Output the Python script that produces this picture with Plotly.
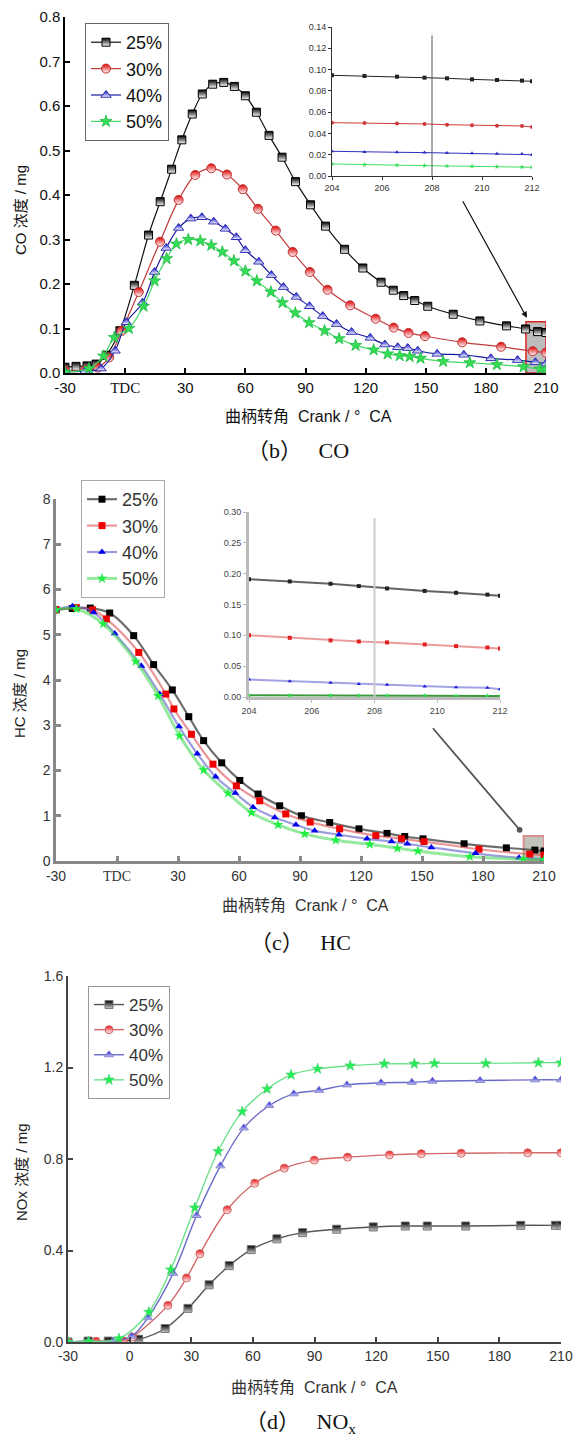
import plotly.graph_objects as go

# ---------------- DATA ----------------
labels = ["25%", "30%", "40%", "50%"]

# CO main
co_x25 = [-30, -24.5, -19, -14.5, -9.4, -2.6, 4.6, 11.7, 17.5, 23.2, 28.3, 33.5, 38.5, 43.7, 49.2, 54.5, 60, 65.5, 71.8, 78.3, 85, 92.5, 100, 109.5, 118.6, 127.7, 133.8, 139, 144.5, 151, 163.7, 177, 190.3, 199.8, 205.8, 210]
co_y25 = [0.013, 0.015, 0.016, 0.02, 0.04, 0.095, 0.197, 0.31, 0.385, 0.458, 0.524, 0.582, 0.627, 0.649, 0.653, 0.644, 0.623, 0.586, 0.534, 0.485, 0.43, 0.378, 0.33, 0.278, 0.236, 0.204, 0.186, 0.174, 0.163, 0.15, 0.132, 0.117, 0.106, 0.099, 0.093, 0.091]
co_x30 = [-30, -20, -13.6, -8, -1.7, 6.8, 17.4, 26.7, 35, 43, 50.8, 58.7, 66.3, 75.2, 83.6, 92.2, 101, 112.3, 125, 134, 141.4, 149.6, 168.2, 187.6, 203.4, 210]
co_y30 = [0.005, 0.006, 0.012, 0.035, 0.095, 0.182, 0.295, 0.389, 0.445, 0.46, 0.446, 0.413, 0.369, 0.32, 0.272, 0.227, 0.187, 0.152, 0.122, 0.102, 0.09, 0.083, 0.069, 0.059, 0.049, 0.046]
co_x40 = [-30, -20, -12, -5, 0.6, 8.7, 14.7, 20.5, 26.7, 32.8, 38.3, 44.2, 50, 55.5, 60, 66.7, 73, 79, 85.4, 92, 98.6, 105.5, 113, 122.3, 129.6, 136, 141, 146, 155.7, 169, 182.5, 195.8, 204.7, 210]
co_y40 = [0.003, 0.004, 0.01, 0.05, 0.114, 0.158, 0.227, 0.281, 0.326, 0.347, 0.35, 0.34, 0.324, 0.305, 0.276, 0.25, 0.22, 0.193, 0.171, 0.15, 0.128, 0.11, 0.092, 0.079, 0.064, 0.058, 0.056, 0.05, 0.043, 0.041, 0.033, 0.029, 0.024, 0.021]
co_x50 = [-30, -18, -10.8, -5.4, 1.9, 9.2, 14.7, 20.7, 25.6, 31.5, 37.5, 43, 48.5, 54.3, 60, 65.7, 72.7, 78.5, 84.9, 91.8, 99.5, 106.8, 115, 124, 131, 137, 142, 147.4, 158.7, 172, 185.5, 198.8, 207, 210]
co_y50 = [0.002, 0.01, 0.038, 0.08, 0.1, 0.15, 0.207, 0.257, 0.29, 0.3, 0.297, 0.287, 0.272, 0.252, 0.229, 0.207, 0.182, 0.158, 0.135, 0.113, 0.095, 0.077, 0.062, 0.052, 0.043, 0.039, 0.037, 0.033, 0.026, 0.023, 0.019, 0.014, 0.009, 0.008]

# CO inset (204-212)
coi_x = [204, 205.3, 206.6, 207.7, 208.6, 209.6, 210.6, 211.6, 212]
coi_y25 = [0.0946, 0.094, 0.0933, 0.0924, 0.0918, 0.0908, 0.0902, 0.0896, 0.089]
coi_y30 = [0.0501, 0.0498, 0.0494, 0.0489, 0.0482, 0.0476, 0.0473, 0.047, 0.046]
coi_y40 = [0.0232, 0.0225, 0.0223, 0.022, 0.0216, 0.0213, 0.021, 0.0207, 0.020]
coi_y50 = [0.0113, 0.0106, 0.0102, 0.0098, 0.0094, 0.0091, 0.0088, 0.0085, 0.0082]

# HC main
hc_x25 = [-30, -22, -13.1, -3.6, 8.2, 18.0, 27.2, 35.3, 42.6, 51.5, 60.4, 69.4, 80, 90.7, 104.6, 119, 132.8, 141.5, 150.5, 170.7, 191.5, 205.5, 210]
hc_y25 = [5.55, 5.58, 5.59, 5.48, 4.98, 4.34, 3.78, 3.19, 2.66, 2.17, 1.78, 1.48, 1.22, 1.00, 0.85, 0.71, 0.61, 0.54, 0.49, 0.38, 0.29, 0.24, 0.22]
hc_x30 = [-30, -20, -12, -5.2, 10.7, 24, 28, 36.6, 47.2, 58.7, 70.2, 83, 95, 109.5, 127.3, 139.9, 151, 178, 203, 210]
hc_y30 = [5.55, 5.6, 5.55, 5.35, 4.61, 3.69, 3.36, 2.80, 2.14, 1.66, 1.33, 1.04, 0.86, 0.71, 0.56, 0.49, 0.43, 0.26, 0.15, 0.13]
hc_x40 = [-30, -21.9, -11.5, -1.1, 12, 21, 30.5, 39.5, 48.5, 58.2, 66.9, 77.6, 88, 97.2, 109.2, 123, 135, 142.8, 154.6, 176.3, 197.7, 210]
hc_y40 = [5.55, 5.63, 5.49, 5.03, 4.31, 3.69, 2.97, 2.37, 1.86, 1.50, 1.19, 0.96, 0.80, 0.67, 0.58, 0.49, 0.43, 0.38, 0.30, 0.17, 0.07, 0.04]
hc_x50 = [-30, -20, -6.8, 9.2, 20.2, 30.8, 42.6, 54.6, 66.1, 79.2, 92.3, 107.6, 124.3, 137.9, 148, 173.5, 199.8, 210]
hc_y50 = [5.55, 5.57, 5.24, 4.41, 3.65, 2.77, 2.01, 1.50, 1.07, 0.80, 0.60, 0.46, 0.37, 0.28, 0.22, 0.095, 0.04, 0.03]

# HC inset (204-212)
hci_x = [204, 205.3, 206.6, 207.5, 208.4, 209.6, 210.6, 211.6, 212]
hci_y25 = [0.191, 0.1874, 0.1836, 0.1798, 0.176, 0.172, 0.169, 0.166, 0.164]
hci_y30 = [0.100, 0.096, 0.0918, 0.090, 0.0885, 0.0852, 0.0825, 0.0803, 0.0787]
hci_y40 = [0.0284, 0.0257, 0.023, 0.021, 0.0197, 0.017, 0.0158, 0.0148, 0.0126]
hci_y50 = [0.0027, 0.0026, 0.0025, 0.0024, 0.0023, 0.0021, 0.0019, 0.0018, 0.0016]

# NOx main
no_x25 = [-30, -20.2, -10.4, 4.4, 17.3, 28.4, 38.7, 48.5, 59.2, 71.7, 84.2, 100.8, 118.6, 134.2, 144.9, 163.6, 190.4, 207.3, 210]
no_y25 = [0, 0.004, 0.004, 0.012, 0.059, 0.147, 0.25, 0.334, 0.404, 0.451, 0.478, 0.493, 0.503, 0.507, 0.507, 0.507, 0.51, 0.51, 0.51]
no_x30 = [-30, -16.3, -3, 1.3, 18.6, 27.7, 34.2, 47.5, 60.9, 75.3, 89.9, 106.1, 126.5, 142, 161.4, 193.8, 210]
no_y30 = [0, 0.003, 0.005, 0.022, 0.16, 0.28, 0.386, 0.578, 0.694, 0.76, 0.795, 0.808, 0.818, 0.823, 0.825, 0.827, 0.827]
no_x40 = [-30, -20, -8, 1, 8.9, 21.2, 32.6, 44.2, 55.6, 68, 79.9, 92.2, 105.8, 122.4, 137.4, 147.4, 170.6, 197.4, 210]
no_y40 = [0, 0.004, 0.003, 0.025, 0.106, 0.30, 0.553, 0.77, 0.936, 1.034, 1.085, 1.10, 1.124, 1.133, 1.135, 1.14, 1.143, 1.146, 1.146]
no_x50 = [-30, -20, -5.2, 9.4, 20, 31.7, 43.1, 54.8, 66.9, 78.6, 91.5, 107.4, 124, 138.6, 148.4, 173.4, 199, 210]
no_y50 = [0, 0.002, 0.015, 0.131, 0.316, 0.587, 0.834, 1.007, 1.106, 1.168, 1.194, 1.208, 1.216, 1.216, 1.218, 1.218, 1.221, 1.221]

x_ticks = [-30, 0, 30, 60, 90, 120, 150, 180, 210]
x_ticktext_tdc = ["-30", "<span style='font-family:Liberation Serif'>TDC</span>", "30", "60", "90", "120", "150", "180", "210"]
x_ticktext_num = ["-30", "0", "30", "60", "90", "120", "150", "180", "210"]

# ---------------- LAYOUT HELPERS ----------------
W, H = 576, 1441
def dx(a, b):
    return [a / W, b / W]
def dy(top, bot):
    return [1 - bot / H, 1 - top / H]

SANS = "Liberation Sans, Arial, Noto Sans CJK SC"
SERIF = "Liberation Serif, Times New Roman, Noto Sans CJK SC"

fig = go.Figure()

# ---------------- CO ----------------
co_styles = [
    dict(line=dict(color="#111111", width=1.2), marker=dict(symbol="square", size=8, color="black", gradient=dict(type="vertical", color="white"), line=dict(color="black", width=1))),
    dict(line=dict(color="#c03a3a", width=1.2), marker=dict(symbol="circle", size=9, color="#e00000", gradient=dict(type="vertical", color="white"), line=dict(color="#c03030", width=1))),
    dict(line=dict(color="#1a1aa0", width=1.2), marker=dict(symbol="triangle-up", size=9, color="#0000d0", gradient=dict(type="vertical", color="white"), line=dict(color="#3030b0", width=1))),
    dict(line=dict(color="#44d866", width=1.2), marker=dict(symbol="star", size=9, color="#33dd55", line=dict(color="#22bb44", width=0.8))),
]
co_series = [(co_x25, co_y25), (co_x30, co_y30), (co_x40, co_y40), (co_x50, co_y50)]
for lab, (xs, ys), st in zip(labels, co_series, co_styles):
    fig.add_trace(go.Scatter(x=xs, y=ys, name=lab, mode="lines+markers", line_shape="spline",
                             line=st["line"], marker=st["marker"], xaxis="x", yaxis="y", legend="legend"))

coi_series = [coi_y25, coi_y30, coi_y40, coi_y50]
coi_colors = ["#222222", "#d03838", "#3030c0", "#40dd60"]
coi_symbols = ["square", "circle", "triangle-up", "star"]
for ys, c, s in zip(coi_series, coi_colors, coi_symbols):
    fig.add_trace(go.Scatter(x=coi_x, y=ys, mode="lines+markers", showlegend=False,
                             line=dict(color=c, width=1), marker=dict(symbol=s, size=4, color=c),
                             xaxis="x2", yaxis="y2"))

# ---------------- HC ----------------
hc_styles = [
    dict(line=dict(color="rgba(60,60,60,0.75)", width=2.2), marker=dict(symbol="square", size=7, color="black")),
    dict(line=dict(color="rgba(220,80,80,0.6)", width=2.2), marker=dict(symbol="square", size=7, color="#ee0000")),
    dict(line=dict(color="rgba(90,90,200,0.6)", width=2.2), marker=dict(symbol="triangle-up", size=7, color="#0000ee")),
    dict(line=dict(color="rgba(60,215,80,0.55)", width=3), marker=dict(symbol="star", size=8, color="#22ee44")),
]
hc_series = [(hc_x25, hc_y25), (hc_x30, hc_y30), (hc_x40, hc_y40), (hc_x50, hc_y50)]
for lab, (xs, ys), st in zip(labels, hc_series, hc_styles):
    fig.add_trace(go.Scatter(x=xs, y=ys, name=lab, mode="lines+markers", line_shape="spline",
                             line=st["line"], marker=st["marker"], xaxis="x3", yaxis="y3", legend="legend2"))

hci_series = [hci_y25, hci_y30, hci_y40, hci_y50]
hci_colors = ["rgba(60,60,60,0.8)", "rgba(220,90,90,0.6)", "rgba(100,100,210,0.6)", "rgba(40,140,40,0.9)"]
hci_mcolors = ["#222222", "#e02020", "#2020e0", "#22dd44"]
for ys, c, mc, s in zip(hci_series, hci_colors, hci_mcolors, coi_symbols):
    fig.add_trace(go.Scatter(x=hci_x, y=ys, mode="lines+markers", showlegend=False,
                             line=dict(color=c, width=2), marker=dict(symbol="square" if s == "circle" else s, size=4, color=mc),
                             xaxis="x4", yaxis="y4"))

# ---------------- NOx ----------------
no_styles = [
    dict(line=dict(color="#555555", width=1.4), marker=dict(symbol="square", size=8, color="black", gradient=dict(type="vertical", color="#cccccc"), line=dict(color="#777777", width=1))),
    dict(line=dict(color="#d26a6a", width=1.4), marker=dict(symbol="circle", size=8, color="#ee1111", gradient=dict(type="vertical", color="white"), line=dict(color="#cc6666", width=1))),
    dict(line=dict(color="#6a6ac8", width=1.4), marker=dict(symbol="triangle-up", size=8, color="#0000dd", gradient=dict(type="vertical", color="#ccccee"), line=dict(color="#8888cc", width=1))),
    dict(line=dict(color="#6ee08c", width=1.4), marker=dict(symbol="star", size=8, color="#22ee55", line=dict(color="#44cc66", width=0.6))),
]
no_series = [(no_x25, no_y25), (no_x30, no_y30), (no_x40, no_y40), (no_x50, no_y50)]
for lab, (xs, ys), st in zip(labels, no_series, no_styles):
    fig.add_trace(go.Scatter(x=xs, y=ys, name=lab, mode="lines+markers", line_shape="spline",
                             line=st["line"], marker=st["marker"], xaxis="x5", yaxis="y5", legend="legend3"))

# ---------------- AXES ----------------
def main_axis(domain, rng, tickvals=None, ticktext=None, dtick=None, fmt=None, color="black", lw=1.5, fs=15, fcolor="#111"):
    d = dict(domain=domain, range=rng, showline=True, linecolor=color, linewidth=lw, ticks="inside",
             ticklen=5, tickwidth=lw, tickcolor=color, showgrid=False, zeroline=False, mirror=False,
             tickfont=dict(family=SANS, size=fs, color=fcolor), fixedrange=True, automargin=False)
    if tickvals is not None:
        d.update(tickmode="array", tickvals=tickvals, ticktext=ticktext)
    if dtick is not None:
        d.update(tick0=0, dtick=dtick)
    if fmt:
        d.update(tickformat=fmt)
    return d

def inset_axis(domain, rng, dtick, fmt=None, color="#333", lw=1, fs=9, fcolor="#333"):
    d = dict(domain=domain, range=rng, showline=True, linecolor=color, linewidth=lw, ticks="outside",
             ticklen=3, tickwidth=1, tickcolor=color, showgrid=False, zeroline=False, tick0=rng[0],
             dtick=dtick, tickfont=dict(family=SANS, size=fs, color=fcolor), fixedrange=True, automargin=False)
    if fmt:
        d.update(tickformat=fmt)
    return d

fig.update_layout(
    xaxis=main_axis(dx(65, 546), [-30, 210], x_ticks, x_ticktext_tdc),
    yaxis=main_axis(dy(17, 373), [0, 0.8], dtick=0.1, fmt=".1f"),
    xaxis2=dict(inset_axis(dx(332, 532), [204, 212], 2), anchor="y2"),
    yaxis2=dict(inset_axis(dy(27, 176), [0, 0.14], 0.02, ".2f"), anchor="x2"),
    xaxis3=dict(main_axis(dx(56, 544), [-30, 210], x_ticks, x_ticktext_tdc, color="#888", lw=2.5, fs=14, fcolor="#333"), anchor="y3"),
    yaxis3=dict(main_axis(dy(499, 861), [0, 8], dtick=1, color="#888", lw=2.5, fs=14, fcolor="#333"), anchor="x3"),
    xaxis4=dict(inset_axis(dx(249, 500), [204, 212], 2, color="#bbb", lw=3, fs=9, fcolor="#444"), anchor="y4"),
    yaxis4=dict(inset_axis(dy(512, 697), [0, 0.30], 0.05, ".2f", color="#bbb", lw=3, fs=9, fcolor="#444"), anchor="x4"),
    xaxis5=dict(main_axis(dx(68, 561), [-30, 210], x_ticks, x_ticktext_num, color="#444", lw=2, fs=14, fcolor="#333"), anchor="y5"),
    yaxis5=dict(main_axis(dy(976, 1342), [0, 1.6], dtick=0.4, fmt=".1f", color="#444", lw=2, fs=14, fcolor="#333"), anchor="x5"),
)

# ---------------- LEGENDS ----------------
def leg(x, y, fs, fcolor="#111", bcolor="#666"):
    return dict(x=x / W, y=1 - y / H, xanchor="left", yanchor="top", bgcolor="white",
                bordercolor=bcolor, borderwidth=1, font=dict(family=SANS, size=fs, color=fcolor),
                tracegroupgap=0, itemsizing="trace")

fig.update_layout(
    legend=leg(85, 23, 18),
    legend2=leg(81, 480, 18, "#333", "#aaa"),
    legend3=leg(88, 986, 17, "#333", "#999"),
)

# ---------------- SHAPES ----------------
fig.add_shape(type="rect", xref="x", yref="y", x0=200, x1=210, y0=0, y1=0.115,
              fillcolor="#bdbdbd", line=dict(color="#e02020", width=1.5), layer="below")
fig.add_shape(type="line", xref="x2", yref="y2", x0=208, x1=208, y0=0, y1=0.132,
              line=dict(color="#555", width=1))
fig.add_shape(type="rect", xref="x3", yref="y3", x0=200, x1=210, y0=0, y1=0.55,
              fillcolor="rgba(185,185,175,0.85)", line=dict(color="#d89090", width=2), layer="below")
fig.add_shape(type="line", xref="x4", yref="y4", x0=208, x1=208, y0=0, y1=0.29,
              line=dict(color="#cccccc", width=2))

# ---------------- ANNOTATIONS ----------------
ann = []
ann.append(dict(x=200.5, y=0.124, xref="x", yref="y", ax=-65, ay=-118, text="", showarrow=True,
                arrowhead=2, arrowsize=1, arrowwidth=1.2, arrowcolor="#111"))
ann.append(dict(x=198, y=0.69, xref="x3", yref="y3", ax=-88, ay=-103, text="", showarrow=True,
                arrowhead=6, arrowsize=0.8, arrowwidth=1.8, arrowcolor="#555"))

def txt(text, x, y, size, family=SANS, color="#111", angle=0):
    return dict(text=text, x=x / W, y=1 - y / H, xref="paper", yref="paper", showarrow=False,
                font=dict(family=family, size=size, color=color), textangle=angle,
                xanchor="center", yanchor="middle")

xt = "曲柄转角  Crank / °  CA"
ann.append(txt(xt, 308, 416, 16))
ann.append(txt("CO 浓度 / mg", 20, 210, 15, angle=-90))
ann.append(txt("（b）   CO", 298, 451, 22, SERIF))

ann.append(txt(xt, 305, 905, 16, color="#333"))
ann.append(txt("HC 浓度 / mg", 19, 694, 15, color="#222", angle=-90))
ann.append(txt("（c）   HC", 300, 943, 22, SERIF))

ann.append(txt(xt, 314, 1387, 16, color="#333"))
ann.append(txt("NOx 浓度 / mg", 21, 1172, 15, color="#222", angle=-90))
ann.append(txt("（d）   NO<sub>x</sub>", 300, 1423, 22, SERIF))

fig.update_layout(annotations=ann)

fig.update_layout(width=W, height=H, margin=dict(l=0, r=0, t=0, b=0, pad=0, autoexpand=False),
                  paper_bgcolor="white", plot_bgcolor="rgba(0,0,0,0)", showlegend=True)

fig.write_html("out.html", config={"displayModeBar": False},
               post_script="document.body.style.margin='0px';document.body.style.padding='0px';")
